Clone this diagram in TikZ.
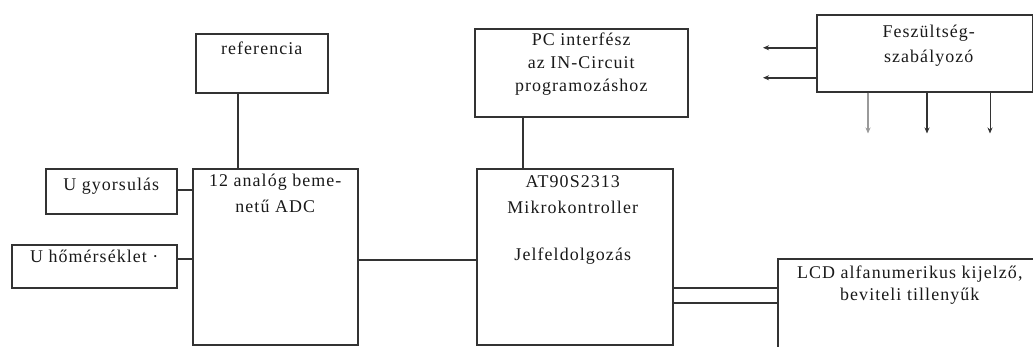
\documentclass[tikz,border=0pt]{standalone}
\usepackage{fontspec}
\setmainfont[LetterSpace=6]{Liberation Serif}
\usetikzlibrary{arrows.meta,calc,positioning}
\usepackage{xcolor}
\definecolor{inkgrey}{HTML}{333333}
\definecolor{fadegrey}{HTML}{9A9A9A}

\tikzset{
  blk/.style={draw=inkgrey, line width=1.5bp, anchor=north west, inner sep=0pt},
  lbl/.style={font=\fontsize{18}{#1}\selectfont, anchor=base, align=center,
    inner sep=0pt, text=black!90},
  lbl/.default=24,
  wire/.style={draw=inkgrey, line width=1.5bp},
  pwr/.style={wire, -{Stealth[length=6bp,width=5bp]}},
}

\begin{document}
\begin{tikzpicture}[x=1bp,y=-1bp]
  \useasboundingbox (0,0) rectangle (1033,346);
  \clip (0,0) rectangle (1033,346);
  % Boxes
  \node[blk, minimum width=132bp, minimum height=59bp] (ref) at (195,33) {};
  \node[blk, minimum width=131bp, minimum height=45bp] (gyors) at (45,168) {};
  \node[blk, minimum width=165bp, minimum height=43bp] (hom) at (11,244) {};
  \node[blk, minimum width=165bp, minimum height=176bp] (adc) at (192,168) {};
  \node[blk, minimum width=213bp, minimum height=88bp] (pc) at (474,28) {};
  \node[blk, minimum width=196bp, minimum height=176bp] (mcu) at (476,168) {};
  \node[blk, minimum width=264bp, minimum height=100bp] (lcd) at (777,258) {};
  \node[blk, minimum width=216bp, minimum height=77bp] (fesz) at (816,14) {};
  % Labels (anchored at the baseline of the last line)
  \node[lbl] (reft) at ([yshift=-21bp]ref.north) {referencia};
  \node[lbl] (gyorst) at ([yshift=-22bp]gyors.north) {U gyorsulás};
  \node[lbl] (homt) at ([yshift=-18bp]hom.north) {U hőmérséklet ·};
  \node[lbl=26] (adct) at ([yshift=-44bp]adc.north) {12 analóg beme-\\netű ADC};
  \node[lbl=23] (pct) at ([yshift=-63bp]pc.north) {PC interfész\\az IN-Circuit\\programozáshoz};
  \node[lbl=26] (mcut) at ([yshift=-92bp,xshift=-2bp]mcu.north) {AT90S2313\\Mikrokontroller\\[21bp]Jelfeldolgozás};
  \node[lbl=22] (lcdt) at ([yshift=-42bp]lcd.north) {LCD alfanumerikus kijelző,\\beviteli tillenyűk};
  \node[lbl=25] (feszt) at ([yshift=-48bp,xshift=4bp]fesz.north) {Feszültség-\\szabályozó};
  % Connections
  \draw[wire] ([xshift=43bp]ref.south west) -- ([xshift=43bp]ref.south west |- adc.north);
  \draw[wire] ([yshift=1.5bp]gyors.east) -- ([yshift=1.5bp]gyors.east -| adc.west);
  \draw[wire] ([yshift=7.5bp]hom.east) -- ([yshift=7.5bp]hom.east -| adc.west);
  \draw[wire] ([yshift=-3bp]adc.east) -- ([yshift=-3bp]adc.east -| mcu.west);
  \draw[wire] ([xshift=49bp]pc.south west) -- ([xshift=49bp]pc.south west |- mcu.north);
  \draw[wire] ([yshift=-31bp]mcu.east) -- ([yshift=-31bp]mcu.east -| lcd.west);
  \draw[wire] ([yshift=-46bp]mcu.east) -- ([yshift=-46bp]mcu.east -| lcd.west);
  % Supply outputs
  \draw[pwr, line width=1.8bp] ([yshift=5.5bp]fesz.west) -- ++(-53,0);
  \draw[pwr, line width=1.8bp] ([yshift=-24.5bp]fesz.west) -- ++(-53,0);
  \draw[pwr, draw=fadegrey, fill=fadegrey] ([xshift=52bp]fesz.south west) -- ++(0,41);
  \draw[pwr, line width=2.2bp] ([xshift=111bp]fesz.south west) -- ++(0,41);
  \draw[pwr, line width=1bp] ([xshift=174bp]fesz.south west) -- ++(0,41);
\end{tikzpicture}
\end{document}
